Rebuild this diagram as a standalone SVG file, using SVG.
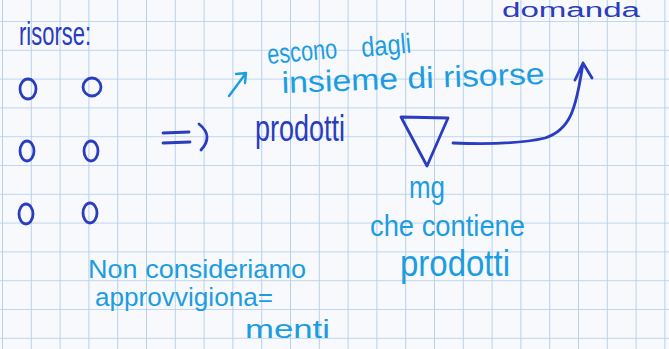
<svg xmlns="http://www.w3.org/2000/svg" width="669" height="349" viewBox="0 0 669 349">
<defs>
<pattern id="grid" x="2" y="21" width="28.8" height="28.8" patternUnits="userSpaceOnUse">
<path d="M0 0H28.8M0 0V28.8" fill="none" stroke="#aecbea" stroke-width="1.7"/>
</pattern>
</defs>
<style>
.ink{fill:#2a3cbf;font-family:"Liberation Sans",Arial,sans-serif}
.cy{fill:#1c9de2;font-family:"Liberation Sans",Arial,sans-serif}
.sk{fill:none;stroke:#2a3cbf;stroke-width:2.8;stroke-linecap:round;stroke-linejoin:round}
.skc{fill:none;stroke:#1c9de2;stroke-width:2.4;stroke-linecap:round;stroke-linejoin:round}
</style>
<rect width="669" height="349" fill="#f7f9fc"/>
<rect width="669" height="349" fill="url(#grid)"/>

<g id="title-domanda"><text class="ink" x="502" y="17" font-size="20" textLength="138" lengthAdjust="spacingAndGlyphs">domanda</text></g>
<g id="risorse-label"><text class="ink" x="19" y="45" font-size="34" textLength="72" lengthAdjust="spacingAndGlyphs">risorse:</text></g>

<g id="risorse">
<ellipse class="sk" cx="28" cy="89" rx="8" ry="10"/>
<ellipse class="sk" cx="92" cy="87" rx="9" ry="9"/>
<ellipse class="sk" cx="27" cy="151" rx="7" ry="10"/>
<ellipse class="sk" cx="91" cy="151" rx="7" ry="10"/>
<ellipse class="sk" cx="26" cy="214" rx="7" ry="10"/>
<ellipse class="sk" cx="90" cy="213" rx="7" ry="10"/>
</g>

<g id="prodotti"><text class="ink" x="255" y="141" font-size="37" textLength="90" lengthAdjust="spacingAndGlyphs">prodotti</text></g>

<g id="mg">
<path class="sk" d="M401 117 L448 118 L427 166 Z"/>
</g>

<g id="label-escono">
<text class="cy" x="268" y="64" font-size="28" textLength="70" lengthAdjust="spacingAndGlyphs" transform="rotate(-5 268 64)">escono</text>
<text class="cy" x="362" y="57" font-size="28" textLength="50" lengthAdjust="spacingAndGlyphs" transform="rotate(-5 362 57)">dagli</text>
<text class="cy" x="282" y="93" font-size="30" textLength="263" lengthAdjust="spacingAndGlyphs" transform="rotate(-2 282 93)">insieme di risorse</text>
</g>

<g id="label-mg">
<text class="cy" x="409" y="198" font-size="32" textLength="36" lengthAdjust="spacingAndGlyphs">mg</text>
<text class="cy" x="370" y="236" font-size="30" textLength="155" lengthAdjust="spacingAndGlyphs">che contiene</text>
<text class="cy" x="400" y="276" font-size="36" textLength="110" lengthAdjust="spacingAndGlyphs">prodotti</text>
</g>

<g id="label-note">
<text class="cy" x="88" y="278" font-size="26" textLength="218" lengthAdjust="spacingAndGlyphs">Non consideriamo</text>
<text class="cy" x="95" y="306" font-size="26" textLength="178" lengthAdjust="spacingAndGlyphs">approvvigiona=</text>
<text class="cy" x="245" y="338" font-size="26" textLength="85" lengthAdjust="spacingAndGlyphs">menti</text>
</g>

<g id="connectors">
<path class="sk" d="M163 133 L189 132 M163 143 L190 142 M199 124 Q214 136 201 150"/>
<path class="sk" d="M453 143 C480 144 520 144 545 138 C570 130 576 110 583 63 M575 80 L583 63 L592 78"/>
<path class="skc" d="M229 96 L246 73 M236 74 L246 73 L245 83"/>
</g>
</svg>
